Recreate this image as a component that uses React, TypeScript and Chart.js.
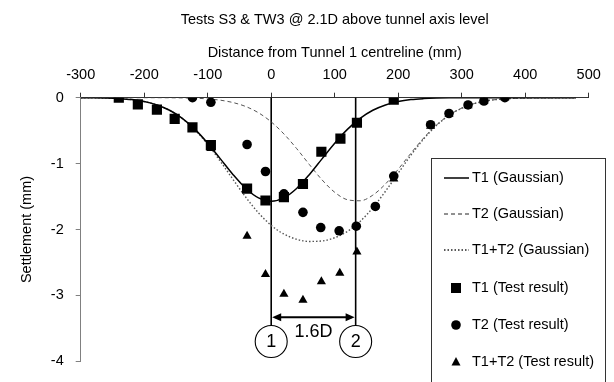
import React, { useEffect, useRef } from "react";
import { Chart, registerables } from "chart.js";

Chart.register(...registerables);

const TITLE = "Tests S3 & TW3 @ 2.1D above tunnel axis level";
const X_TITLE = "Distance from Tunnel 1 centreline (mm)";
const Y_TITLE = "Settlement (mm)";

const X_MIN = -300;
const X_MAX = 500;
const X_STEP = 100;
const Y_MIN = -4;
const Y_MAX = 0;
const Y_STEP = 1;

// Gaussian curves, values every 20 mm
const GAUSS_X = [
  -300, -280, -260, -240, -220, -200, -180, -160, -140, -120, -100, -80, -60, -40, -20, 0,
  20, 40, 60, 80, 100, 120, 140, 160, 180, 200, 220, 240, 260, 280, 300, 320, 340, 360,
  380, 400, 420, 440, 460, 480,
];
const T1_GAUSS = [
  -0.001, -0.002, -0.006, -0.014, -0.029, -0.059, -0.11, -0.191, -0.314, -0.481, -0.69, -0.928,
  -1.168, -1.377, -1.519, -1.57, -1.519, -1.377, -1.168, -0.928, -0.69, -0.481, -0.314, -0.191,
  -0.11, -0.059, -0.029, -0.014, -0.006, -0.002, -0.001, 0, 0, 0, 0, 0, 0, 0, 0, 0,
];
const T2_GAUSS = [
  0, 0, 0, 0, 0, 0, 0, -0.001, -0.003, -0.008, -0.018, -0.038, -0.074, -0.134, -0.229, -0.367,
  -0.55, -0.771, -1.013, -1.246, -1.435, -1.548, -1.564, -1.479, -1.309, -1.086, -0.843, -0.613,
  -0.417, -0.266, -0.159, -0.089, -0.046, -0.023, -0.01, -0.004, -0.002, -0.001, 0, 0,
];
const T12_GAUSS = [
  -0.001, -0.002, -0.006, -0.014, -0.029, -0.059, -0.11, -0.192, -0.317, -0.489, -0.708, -0.966,
  -1.242, -1.511, -1.748, -1.937, -2.069, -2.148, -2.181, -2.174, -2.125, -2.029, -1.878, -1.67,
  -1.419, -1.145, -0.872, -0.627, -0.423, -0.268, -0.16, -0.089, -0.046, -0.023, -0.01, -0.004,
  -0.002, -0.001, 0, 0,
];

// Test results
const T1_TEST_X = [-240, -210, -180, -152, -124, -95, -38, -9, 20, 50, 79, 109, 135, 193];
const T1_TEST_Y = [0, -0.1, -0.18, -0.32, -0.45, -0.72, -1.38, -1.56, -1.51, -1.31, -0.82, -0.62, -0.38, -0.03];

const T2_TEST_X = [-124, -95, -38, -9, 20, 50, 78, 107, 134, 164, 193, 251, 280, 310, 335, 368];
const T2_TEST_Y = [0, -0.07, -0.71, -1.12, -1.46, -1.74, -1.97, -2.02, -1.95, -1.65, -1.19, -0.41, -0.24, -0.11, -0.05, 0];

const T12_TEST_X = [-95, -38, -9, 20, 50, 79, 108, 135, 193, 251, 280, 310, 335, 368];
const T12_TEST_Y = [-0.77, -2.1, -2.68, -2.98, -3.07, -2.79, -2.66, -2.34, -1.23, -0.43, -0.25, -0.12, -0.05, 0];

// Tunnel annotation
const TUNNEL_X = [0, 133];
const TUNNEL_NAMES = ["1", "2"];
const TUNNEL_LABEL_Y = -3.7;
const ARROW_Y = -3.33;
const SPACING_LABEL_Y = -3.55;
const SPACING_LABEL = "1.6D";

const LEGEND_LABELS = [
  "T1 (Gaussian)",
  "T2 (Gaussian)",
  "T1+T2 (Gaussian)",
  "T1 (Test result)",
  "T2 (Test result)",
  "T1+T2 (Test result)",
];

const FONT = "'Liberation Sans', Arial, Helvetica, sans-serif";
const FS = 14.5;

const pts = (xs: number[], ys: number[]) => xs.map((x, i) => ({ x, y: ys[i] }));

const SOLID = { color: "#000000", width: 1.5, dash: [] as number[] };
const DASHED = { color: "#555555", width: 1, dash: [4, 3] };
const DOTTED = { color: "#555555", width: 1.4, dash: [1.5, 2] };

const tunnelPlugin = {
  id: "tunnelAnnot",
  beforeDatasetsDraw(chart: any) {
    const { ctx, chartArea, scales } = chart;
    const xs = scales.x;
    const ys = scales.y;
    const px = TUNNEL_X.map((v) => xs.getPixelForValue(v));
    const cy = ys.getPixelForValue(TUNNEL_LABEL_Y);
    const r = 16;
    ctx.save();
    ctx.strokeStyle = "#000";
    ctx.fillStyle = "#000";
    ctx.lineWidth = 1.6;
    px.forEach((p) => {
      ctx.beginPath();
      ctx.moveTo(p, chartArea.top);
      ctx.lineTo(p, cy - r);
      ctx.stroke();
    });
    ctx.lineWidth = 1.1;
    ctx.font = `18px ${FONT}`;
    ctx.textAlign = "center";
    ctx.textBaseline = "middle";
    px.forEach((p, i) => {
      ctx.beginPath();
      ctx.arc(p, cy, r, 0, Math.PI * 2);
      ctx.stroke();
      ctx.fillText(TUNNEL_NAMES[i], p, cy + 1);
    });
    const ay = ys.getPixelForValue(ARROW_Y);
    ctx.lineWidth = 2;
    ctx.beginPath();
    ctx.moveTo(px[0] + 4, ay);
    ctx.lineTo(px[1] - 4, ay);
    ctx.stroke();
    const head = (tip: number, dir: number) => {
      ctx.beginPath();
      ctx.moveTo(tip, ay);
      ctx.lineTo(tip + dir * 9, ay - 4);
      ctx.lineTo(tip + dir * 9, ay + 4);
      ctx.closePath();
      ctx.fill();
    };
    head(px[0] + 1, 1);
    head(px[1] - 1, -1);
    ctx.fillText(SPACING_LABEL, (px[0] + px[1]) / 2, ys.getPixelForValue(SPACING_LABEL_Y));
    ctx.restore();
  },
};

const legendPlugin = {
  id: "boxLegend",
  afterDraw(chart: any) {
    const { ctx } = chart;
    const left = 431;
    const top = 158;
    const right = 605;
    const sampleX0 = 444;
    const sampleX1 = 469;
    const markX = 456;
    const textX = 472;
    const rowY = [178, 214, 250, 288, 325, 362];
    ctx.save();
    ctx.fillStyle = "#fff";
    ctx.fillRect(left, top, right - left, 260);
    ctx.strokeStyle = "#333";
    ctx.lineWidth = 1;
    ctx.strokeRect(left + 0.5, top + 0.5, right - left, 260);
    const styles = [SOLID, DASHED, DOTTED];
    styles.forEach((s, i) => {
      ctx.beginPath();
      ctx.strokeStyle = i === 0 ? "#000" : "#222";
      ctx.lineWidth = s.width;
      ctx.setLineDash(s.dash);
      ctx.moveTo(sampleX0, rowY[i]);
      ctx.lineTo(sampleX1, rowY[i]);
      ctx.stroke();
    });
    ctx.setLineDash([]);
    ctx.fillStyle = "#000";
    // square
    ctx.fillRect(markX - 5, rowY[3] - 5, 10, 10);
    // circle
    ctx.beginPath();
    ctx.arc(markX, rowY[4], 4.8, 0, Math.PI * 2);
    ctx.fill();
    // triangle
    ctx.beginPath();
    ctx.moveTo(markX, rowY[5] - 5);
    ctx.lineTo(markX + 4.5, rowY[5] + 3.5);
    ctx.lineTo(markX - 4.5, rowY[5] + 3.5);
    ctx.closePath();
    ctx.fill();
    ctx.font = `${FS}px ${FONT}`;
    ctx.textAlign = "left";
    ctx.textBaseline = "middle";
    LEGEND_LABELS.forEach((t, i) => ctx.fillText(t, textX, rowY[i]));
    ctx.restore();
  },
};

export default function App() {
  const ref = useRef<HTMLCanvasElement | null>(null);

  useEffect(() => {
    if (!ref.current) return;
    const lineDs = (label: string, data: number[], st: any) => ({
      label,
      type: "line" as const,
      data: pts(GAUSS_X, data),
      borderColor: st.color,
      borderWidth: st.width,
      borderDash: st.dash,
      pointRadius: 0,
      fill: false,
      cubicInterpolationMode: "monotone" as const,
      showLine: true,
    });
    const markDs = (label: string, xs: number[], ys: number[], style: string, radius: number) => ({
      label,
      type: "scatter" as const,
      data: pts(xs, ys),
      pointStyle: style,
      pointRadius: radius,
      pointHoverRadius: radius,
      backgroundColor: "#000",
      borderColor: "#000",
      borderWidth: 0,
      showLine: false,
    });

    const chart = new Chart(ref.current, {
      type: "scatter",
      data: {
        datasets: [
          markDs(LEGEND_LABELS[3], T1_TEST_X, T1_TEST_Y, "rect", 7.2),
          markDs(LEGEND_LABELS[4], T2_TEST_X, T2_TEST_Y, "circle", 4.8),
          markDs(LEGEND_LABELS[5], T12_TEST_X, T12_TEST_Y, "triangle", 5.3),
          lineDs(LEGEND_LABELS[0], T1_GAUSS, SOLID),
          lineDs(LEGEND_LABELS[1], T2_GAUSS, DASHED),
          lineDs(LEGEND_LABELS[2], T12_GAUSS, DOTTED),
        ] as any,
      },
      options: {
        animation: false,
        responsive: false,
        maintainAspectRatio: false,
        layout: { padding: { left: 0, top: 0, right: 25.3, bottom: 11.3 } },
        plugins: {
          legend: { display: false },
          tooltip: { enabled: false },
          title: {
            display: true,
            text: TITLE,
            fullSize: false,
            color: "#000",
            font: { family: FONT, size: FS, weight: "normal" },
            padding: { top: 11, bottom: 5 },
          },
        },
        scales: {
          x: {
            type: "linear",
            position: "top",
            min: X_MIN,
            max: X_MAX,
            ticks: {
              stepSize: X_STEP,
              color: "#000",
              font: { family: FONT, size: FS },
              padding: 9,
              maxRotation: 0,
            },
            grid: {
              display: true,
              drawOnChartArea: false,
              drawTicks: true,
              tickLength: 5,
              color: "#333",
              lineWidth: 1,
            },
            border: { display: true, color: "#333", width: 1 },
            title: {
              display: true,
              text: X_TITLE,
              color: "#000",
              font: { family: FONT, size: FS },
              padding: { top: 11, bottom: 0 },
            },
            afterFit: (s: any) => {
              s.height = 64.3;
            },
          },
          y: {
            type: "linear",
            min: Y_MIN,
            max: Y_MAX,
            ticks: {
              stepSize: Y_STEP,
              color: "#000",
              font: { family: FONT, size: FS },
              padding: 12,
            },
            grid: {
              display: true,
              drawOnChartArea: false,
              drawTicks: true,
              tickLength: 5,
              color: "#808080",
              lineWidth: 1,
            },
            border: { display: true, color: "#808080", width: 1 },
            title: {
              display: true,
              text: Y_TITLE,
              color: "#000",
              font: { family: FONT, size: FS },
              padding: { top: 18, bottom: 0 },
            },
            afterFit: (s: any) => {
              s.width = 80.7;
            },
          },
        },
      },
      plugins: [tunnelPlugin, legendPlugin],
    });
    return () => chart.destroy();
  }, []);

  return (
    <div style={{ position: "absolute", left: 0, top: 0, width: 614, height: 382, background: "#fff" }}>
      <canvas ref={ref} width={614} height={382} style={{ display: "block", width: 614, height: 382 }} />
    </div>
  );
}
